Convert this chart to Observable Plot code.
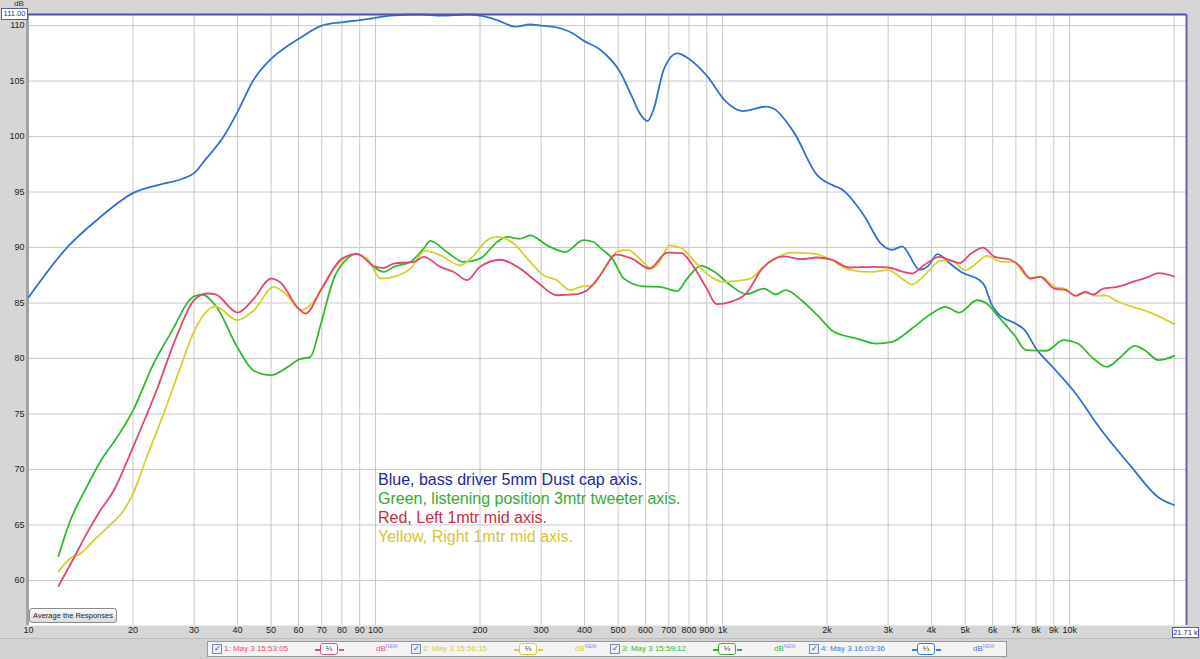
<!DOCTYPE html>
<html>
<head>
<meta charset="utf-8">
<script src="https://cdn.jsdelivr.net/npm/d3@7"></script>
<script src="https://cdn.jsdelivr.net/npm/@observablehq/plot@0.6"></script>
<style>
  html, body { margin:0; padding:0; }
  body { width:1200px; height:659px; overflow:hidden; background:#d6d6d6; font-family:"Liberation Sans", Arial, sans-serif; }
  #wrap { position:relative; width:1200px; height:659px; }
  #chart svg { display:block; background:linear-gradient(to bottom, #f2f2f2 0px, #f2f2f2 625px, #dadada 625px, #d2d2d2 638px); }
  .note { position:absolute; left:378px; top:470px; font-size:16px; line-height:19px; white-space:nowrap; }
  .btn { position:absolute; left:29px; top:608px; width:88px; height:15px; box-sizing:border-box; border:1px solid #8c8c8c; border-radius:3px;
         background:linear-gradient(#fafafa,#dcdcdc); font-size:7.5px; line-height:13px; text-align:center; color:#222; white-space:nowrap; overflow:hidden; }
  .cur { position:absolute; box-sizing:border-box; border:1px solid #5a5ab4; background:#fff; color:#2a2aa0; font-size:7.5px; line-height:10px; text-align:center; white-space:nowrap; overflow:visible; }
  #strip { position:absolute; left:0; top:638px; width:1200px; height:21px; background:#d2d2d2; border-top:1px solid #bdbdbd; box-sizing:border-box; }
  #panel { position:absolute; left:207px; top:2px; width:800px; height:16px; background:#f4f4f4; border:1px solid #9a9a9a; box-sizing:border-box; }
  .ent { position:absolute; top:0; height:14px; font-size:8px; line-height:14px; white-space:nowrap; }
  .chk { position:absolute; top:2px; width:8px; height:8px; border:1px solid #7a8aa8; background:#e8eef8; box-sizing:content-box; font-size:8px; line-height:8px; color:#34508a; text-align:center; }
  .oct { position:absolute; top:1px; height:10px; width:16px; border:1.5px solid; border-radius:3px; background:#fff; font-size:8px; line-height:10px; text-align:center; color:#333; }
  .ln { position:absolute; top:7px; width:5px; height:1.5px; }
  .db { position:absolute; top:0; font-size:8px; line-height:14px; }
  .db span { font-size:5px; color:#8a8ae6; position:relative; top:-3px; }
</style>
</head>
<body>
<div id="wrap">
  <div id="chart"></div>
  <div class="note">
    <div style="color:#2424a6">Blue, bass driver 5mm Dust cap axis.</div>
    <div style="color:#34ab34">Green, listening position 3mtr tweeter axis.</div>
    <div style="color:#cc2c3e">Red, Left 1mtr mid axis.</div>
    <div style="color:#d6c630">Yellow, Right 1mtr mid axis.</div>
  </div>
  <div class="btn">Average the Responses</div>
  <div id="strip"><div id="panel"></div></div>
</div>
<script>
// ---- data: [frequency Hz, level dB] ----
const blue = [[10,85.5],[13,90.1],[15.9,92.6],[20,94.9],[24.1,95.7],[27.8,96.2],[30,96.7],[32.3,97.9],[36.5,100.0],[40,102.2],[44.5,105.1],[50,107.0],[55.4,108.1],[60,108.8],[70,110.0],[80,110.3],[90,110.5],[100,110.7],[110,110.9],[134,111.0],[155,110.9],[184,111.0],[200,110.9],[224,110.5],[253,109.9],[279,110.1],[300,110.0],[323,109.9],[365,109.4],[400,108.6],[445,107.8],[507,105.8],[548,103.6],[577,102.1],[608,101.4],[632,102.4],[676,106.0],[740,107.5],[801,107.0],[900,105.5],[1026,103.1],[1140,102.3],[1334,102.7],[1405,102.5],[1603,100.4],[1875,96.5],[2081,95.6],[2193,95.3],[2565,92.8],[2849,90.4],[3083,89.8],[3289,90.1],[3700,88.0],[3900,88.3],[4161,89.4],[4500,88.6],[4930,87.7],[5478,87.1],[5700,86.5],[5930,85.0],[6240,84.0],[6934,83.2],[7400,82.6],[8000,80.9],[9016,79.1],[10260,77.1],[12300,73.6],[15000,70.3],[18000,67.5],[20000,66.8]];
const green = [[12.2,62.2],[13.2,65.4],[14.7,68.4],[16.1,70.7],[18.0,72.9],[20,75.3],[22.9,79.5],[25.6,82.2],[30,85.6],[31.6,85.75],[34.9,84.6],[40,81.0],[44.6,78.9],[50,78.5],[55.6,79.2],[60,79.9],[64.9,80.15],[69.4,83.0],[75.8,87.2],[82.8,89.0],[87.5,89.46],[92.5,89.16],[98.8,88.26],[105.6,87.8],[112.8,88.26],[126,88.7],[137.6,89.9],[143.8,90.6],[160.6,89.6],[179.4,88.7],[200,89.0],[224,90.5],[239,90.96],[261,90.8],[279,91.1],[312,90.2],[352,89.6],[397,90.66],[425,90.5],[444,89.97],[481,89.0],[520,87.2],[593,86.5],[658,86.46],[740,86.07],[790,87.2],[866,88.35],[949,87.8],[1054,86.6],[1170,85.8],[1316,86.3],[1423,85.77],[1520,86.16],[1687,85.25],[1875,83.9],[2081,82.46],[2433,81.8],[2772,81.35],[3083,81.5],[3510,82.7],[4000,84.05],[4385,84.65],[4807,84.14],[5410,85.25],[5770,84.95],[6240,83.75],[6934,82.1],[7500,80.75],[8550,80.7],[9610,81.65],[10540,81.35],[11700,80.0],[12820,79.25],[14050,80.15],[15400,81.14],[16450,80.75],[18030,79.85],[20000,80.24]];
const red = [[12.2,59.5],[13.5,62.0],[14.7,64.2],[16.1,66.3],[17.6,68.1],[20,72.0],[23.5,77.3],[26.8,82.1],[30,85.26],[32.7,85.86],[34.6,85.77],[40,84.14],[44.6,85.4],[50,87.2],[53.2,86.85],[60,84.5],[62.8,84.05],[70,86.3],[80,89.0],[88.5,89.4],[100,88.26],[105.6,88.17],[112.8,88.56],[128.8,88.7],[137.6,89.16],[153.8,88.26],[168,87.8],[183.5,87.06],[200,88.26],[229,88.9],[261,88.1],[292,86.9],[333,85.7],[372,85.77],[407,86.16],[444,87.5],[493,89.37],[548,89.0],[616,88.1],[693,89.55],[760,89.5],[832,88.1],[900,86.3],[961,84.9],[1054,85.1],[1170,85.86],[1300,88.1],[1500,89.2],[1687,88.95],[1875,89.1],[2081,88.86],[2311,88.2],[2704,88.26],[3000,88.2],[3246,87.9],[3510,87.66],[3800,88.4],[4218,89.16],[4560,88.8],[4807,88.6],[5200,89.46],[5623,90.0],[6084,89.16],[6760,88.9],[7215,88.26],[7700,87.2],[8220,87.36],[9016,86.3],[9750,86.16],[10400,85.65],[11100,86.0],[11700,85.77],[12500,86.3],[13700,86.46],[15200,86.9],[16870,87.36],[18030,87.7],[20000,87.4]];
const yellow = [[12.2,60.8],[13.2,62.0],[14.1,62.4],[15.4,63.6],[17.2,65.0],[18.8,66.3],[20,67.8],[21.9,71.1],[24.5,75.0],[27.4,79.2],[30,82.45],[32.7,84.3],[34.5,84.7],[40,83.46],[44.6,84.35],[50.9,86.46],[55.6,85.7],[60.8,84.35],[64.9,84.8],[75.8,88.1],[86.5,89.4],[94.6,89.0],[103.3,87.2],[112.8,87.36],[126,88.1],[139.2,89.7],[153.8,89.3],[175.6,88.4],[192,89.3],[209.6,90.66],[224,90.96],[250,90.36],[279,88.7],[305,87.5],[333,87.06],[364,86.16],[389,86.46],[422,86.6],[456,88.1],[500,89.67],[534,89.76],[577,89.0],[624,88.1],[658,88.7],[703,90.2],[760,89.97],[832,88.7],[912,87.5],[1000,86.9],[1081,86.97],[1202,87.2],[1316,88.3],[1442,89.1],[1560,89.55],[1824,89.46],[2026,89.0],[2311,88.0],[2630,87.8],[3000,87.96],[3289,87.2],[3510,86.67],[3900,87.8],[4218,88.77],[4560,88.86],[5000,87.96],[5340,88.47],[5770,89.25],[6410,88.7],[6934,88.7],[7310,87.8],[7700,87.27],[8320,87.36],[9016,86.46],[9750,86.25],[10400,85.65],[11100,85.9],[12020,85.65],[12650,85.7],[13700,85.16],[15200,84.65],[16870,84.2],[18240,83.75],[20000,83.1]];

const xDomain = [10, 21710];
const yDomain = [55.94, 111];
const xGrid = [10,20,30,40,50,60,70,80,90,100,200,300,400,500,600,700,800,900,1000,2000,3000,4000,5000,6000,7000,8000,9000,10000,20000];
const xTickLabels = [10,20,30,40,50,60,70,80,90,100,200,300,400,500,600,700,800,900,1000,2000,3000,4000,5000,6000,7000,8000,9000,10000];
const yTicks = [60,65,70,75,80,85,90,95,100,105,110];
const cursorDb = 111.00;
const cursorHz = 21710;

const seriesNames = ["1: May 3 15:53:05","2: May 3 15:56:15","3: May 3 15:59:12","4: May 3 16:03:36"];
const seriesColors = ["#e0507a","#d4cc38","#36b236","#3f78d6"];
const lineColors = {red:"#e3466e", yellow:"#d7cf2e", green:"#2fba2f", blue:"#326fd6"};

const fmt = d => d >= 1000 ? (d/1000) + "k" : String(d);

const chart = Plot.plot({
  width: 1200, height: 638,
  marginTop: 14, marginRight: 14, marginBottom: 13, marginLeft: 28,
  style: {background: "transparent", fontFamily: "Liberation Sans, Arial, sans-serif", fontSize: "9px", color: "#222", overflow: "visible"},
  x: {type: "log", domain: xDomain, axis: null},
  y: {domain: yDomain, ticks: yTicks, tickSize: 0, tickPadding: 4, label: null},
  marks: [
    Plot.frame({fill: "white", stroke: null}),
    Plot.ruleX(xGrid, {stroke: "#c8c8c8", strokeWidth: 1}),
    Plot.ruleY(yTicks, {stroke: "#c8c8c8", strokeWidth: 1}),
    Plot.ruleX([xDomain[0]], {stroke: "#a2a2a2", strokeWidth: 3, dx: -1}),
    Plot.text(xTickLabels, {x: d => d, frameAnchor: "bottom", dy: 7, text: fmt, fill: "#222", fontSize: 9}),
    Plot.line(blue, {x: d => d[0], y: d => d[1], stroke: lineColors.blue, strokeWidth: 1.8, curve: "monotone-x"}),
    Plot.line(green, {x: d => d[0], y: d => d[1], stroke: lineColors.green, strokeWidth: 1.8, curve: "monotone-x"}),
    Plot.line(yellow, {x: d => d[0], y: d => d[1], stroke: lineColors.yellow, strokeWidth: 1.8, curve: "monotone-x"}),
    Plot.line(red, {x: d => d[0], y: d => d[1], stroke: lineColors.red, strokeWidth: 1.8, curve: "monotone-x"}),
    Plot.ruleY([cursorDb], {stroke: "#4e4eae", strokeWidth: 2}),
    Plot.ruleX([cursorHz], {stroke: "#6262b8", strokeWidth: 2})
  ]
});
document.getElementById("chart").appendChild(chart);

// cursor labels positioned through the scales
const wrap = document.getElementById("wrap");
const yPx = chart.scale("y").apply(cursorDb);
const xPx = chart.scale("x").apply(cursorHz);
const lab1 = document.createElement("div");
lab1.className = "cur";
lab1.textContent = cursorDb.toFixed(2);
Object.assign(lab1.style, {left: "1px", top: (yPx - 6) + "px", width: "27px", height: "12px"});
wrap.appendChild(lab1);
const dbLab = document.createElement("div");
dbLab.textContent = "dB";
Object.assign(dbLab.style, {position: "absolute", left: "14px", top: (yPx - 15) + "px", fontSize: "8px", color: "#333"});
wrap.appendChild(dbLab);
const lab2 = document.createElement("div");
lab2.className = "cur";
lab2.textContent = (cursorHz / 1000).toFixed(2) + " k";
Object.assign(lab2.style, {left: (xPx - 14) + "px", top: "627px", width: "27px", height: "11px", fontSize: "7.5px", lineHeight: "9px"});
wrap.appendChild(lab2);

// bottom measurement strip
const panel = document.getElementById("panel");
seriesNames.forEach((name, i) => {
  const c = seriesColors[i];
  const e = document.createElement("div");
  e.className = "ent";
  e.style.left = (4 + i * 199) + "px";
  e.style.width = "195px";
  e.innerHTML =
    `<div class="chk" style="left:0">✓</div>` +
    `<div style="position:absolute;left:12px;top:0;color:${c}">${name}</div>` +
    `<div class="ln" style="left:103px;background:${c}"></div>` +
    `<div class="oct" style="left:108px;border-color:${c}">⅓</div>` +
    `<div class="ln" style="left:127px;background:${c}"></div>` +
    `<div class="db" style="left:164px;color:${c}">dB<span>NEW</span></div>`;
  panel.appendChild(e);
});
</script>
</body>
</html>
